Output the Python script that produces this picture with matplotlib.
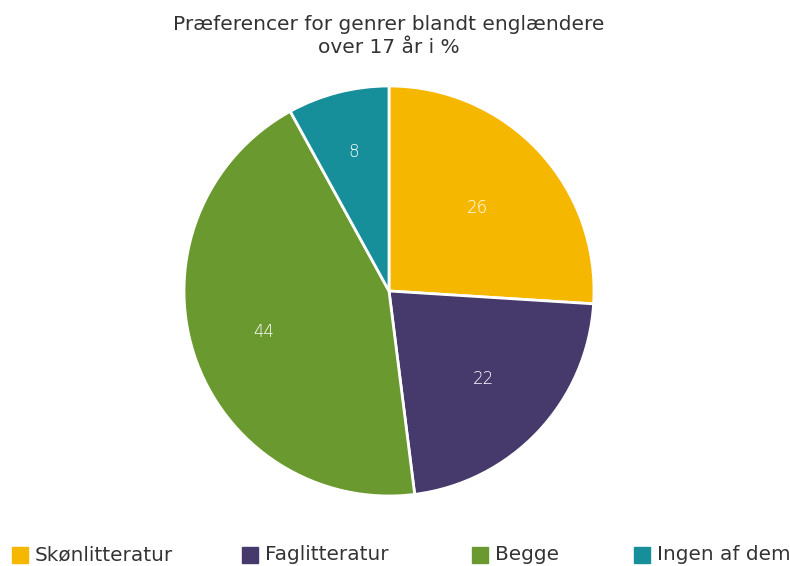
import matplotlib
matplotlib.use("Agg")
import numpy as np
import matplotlib.pyplot as plt

# data
labels = ["Skønlitteratur", "Faglitteratur", "Begge", "Ingen af dem"]
values = [26, 22, 44, 8]
colors = ["#F5B700", "#46396B", "#6A9A2F", "#168F9A"]
title = "Præferencer for genrer blandt englændere\nover 17 år i %"

# style: how far out each value label sits (fraction of radius)
label_radius = [0.59, 0.63, 0.64, 0.70]

plt.rcParams["font.family"] = ["DejaVu Sans"]

fig = plt.figure(figsize=(7.9, 5.66), dpi=100)

# pie axes, placed so the circle sits where the reference has it
ax = fig.add_axes([0.2329, 0.1237, 0.519, 0.7244])
wedges, _ = ax.pie(
    values,
    colors=colors,
    startangle=90,
    counterclock=False,
    wedgeprops=dict(edgecolor="white", linewidth=2),
)
for w, v, r in zip(wedges, values, label_radius):
    mid = np.deg2rad((w.theta1 + w.theta2) / 2)
    ax.text(r * np.cos(mid), r * np.sin(mid), str(v), ha="center",
            va="center", color="white", fontsize=12, fontweight="light")
ax.set_xlim(-1.0, 1.0)
ax.set_ylim(-1.0, 1.0)
ax.set_aspect("equal")

fig.text(0.492, 0.936, title, ha="center", va="center",
         fontsize=14.5, color="#333333", linespacing=1.3)

# legend along the bottom edge
legend_px = [12, 242, 472, 634]
for px, lab, col in zip(legend_px, labels, colors):
    fig.add_artist(plt.Rectangle((px / 790, 3 / 566), 16 / 790, 16 / 566,
                                 color=col, transform=fig.transFigure))
    fig.text((px + 23) / 790, 6 / 566, lab, ha="left", va="baseline",
             fontsize=14.4, color="#333333")

fig.savefig("out.png", dpi=100)
